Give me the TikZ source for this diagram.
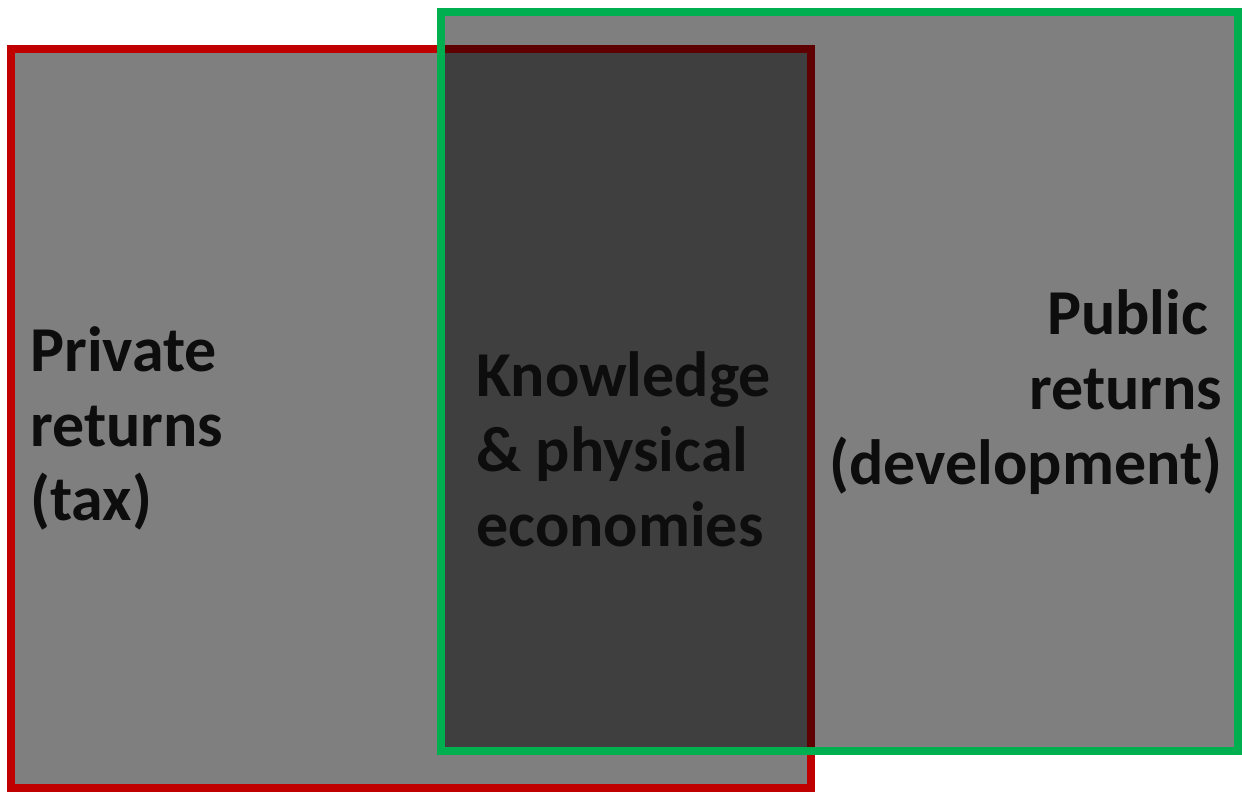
\documentclass[tikz,border=0pt]{standalone}
\usepackage{fontspec}
\setmainfont{Carlito}
\definecolor{privred}{RGB}{192,0,0}
\definecolor{pubgreen}{RGB}{0,176,80}
\definecolor{labelink}{RGB}{13,13,13}
\tikzset{
  returnbox/.style={line width=0.16cm, fill=black, fill opacity=0.5, draw opacity=1},
  boxlabel/.style={inner sep=0pt, text=labelink, font=\fontsize{36.4}{42.6}\selectfont\bfseries}
}
\begin{document}
\begin{tikzpicture}
    \useasboundingbox (0,0) rectangle (24.84,15.88);

    % private returns, then public returns on top
    \filldraw[returnbox, draw=privred] (0.22,14.90) rectangle (16.22,0.12);
    \filldraw[returnbox, draw=pubgreen] (8.82,15.64) rectangle (24.76,0.86);

    \node[boxlabel, anchor=west, align=left] (private) at (0.60,7.31) {Private\\returns\\(tax)};
    \node[boxlabel, anchor=west, align=left] (overlap) at (9.52,6.90) {Knowledge\\\& physical\\economies};
    \node[boxlabel, anchor=east, align=right] (public) at (24.45,8.04) {Public\kern0.28cm\\returns\\(development)};

\end{tikzpicture}
\end{document}
